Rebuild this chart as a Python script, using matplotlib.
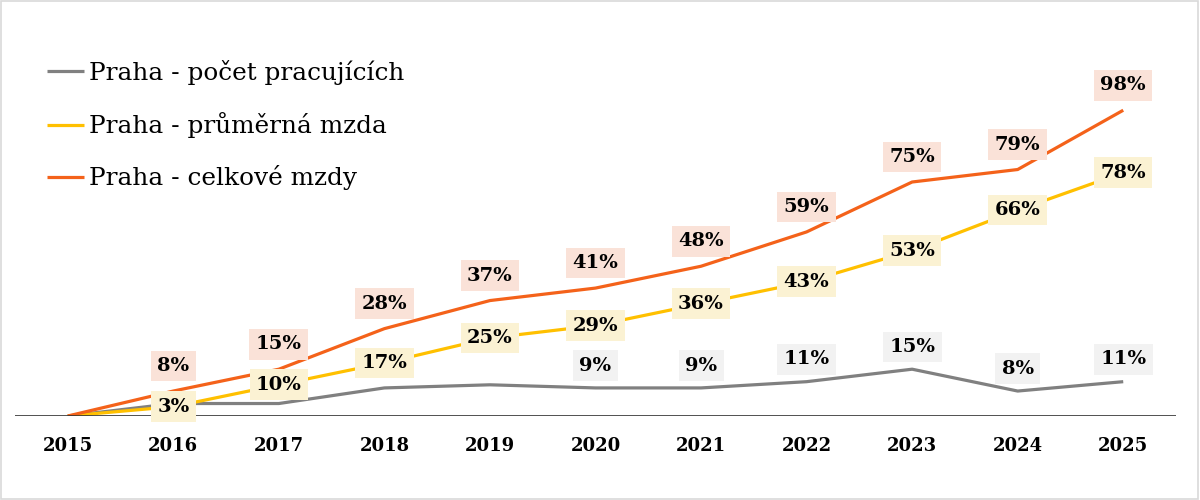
import matplotlib.pyplot as plt
from matplotlib.patches import Rectangle

years = ['2015', '2016', '2017', '2018', '2019', '2020', '2021', '2022', '2023', '2024', '2025']
workers = [0, 4, 4, 9, 10, 9, 9, 11, 15, 8, 11]
avg_wage = [0, 3, 10, 17, 25, 29, 36, 43, 53, 66, 78]
total_wages = [0, 8, 15, 28, 37, 41, 48, 59, 75, 79, 98]
# grey series only has labels from 2020 on
worker_labels_from = 5

series_names = ['Praha - počet pracujících', 'Praha - průměrná mzda', 'Praha - celkové mzdy']

grey = '#808080'
yellow = '#FFC000'
orange = '#F4621A'

plt.rcParams['font.family'] = ['DejaVu Serif']

fig = plt.figure(figsize=(12, 5), dpi=100)
ax = fig.add_axes([0.0125, 0.168, 0.9675, 0.7488])

x = list(range(len(years)))
ax.plot(x, workers, color=grey, lw=2.3, label=series_names[0], solid_capstyle='butt')
ax.plot(x, avg_wage, color=yellow, lw=2.3, label=series_names[1], solid_capstyle='butt')
ax.plot(x, total_wages, color=orange, lw=2.3, label=series_names[2], solid_capstyle='butt')

ax.set_xlim(-0.5, len(years) - 0.5)
ax.set_ylim(0, 120)
ax.axhline(0, color='#333333', lw=1.2)

for s in ax.spines.values():
    s.set_visible(False)
ax.set_yticks([])
ax.set_xticks(x)
ax.set_xticklabels(years, fontsize=13, fontweight='bold')
ax.tick_params(axis='x', length=0, pad=15)

def label(xi, yi, dy, bg):
    ax.annotate(f'{yi}%', (xi, yi), xytext=(0, dy), textcoords='offset points',
                ha='center', va='center', fontsize=14, fontweight='bold',
                bbox=dict(boxstyle='square,pad=0.33', fc=bg, ec='none'), zorder=5)

for i in range(1, len(years)):
    label(i, total_wages[i], 18, '#FAE2D8')
    label(i, avg_wage[i], 0, '#FBF2D3')
    if i >= worker_labels_from:
        label(i, workers[i], 16, '#F2F2F2')

leg = ax.legend(loc='upper left', bbox_to_anchor=(0.008, 1.01), frameon=False,
                prop={'family': 'DejaVu Serif', 'size': 17.8}, handlelength=1.5,
                handletextpad=0.2, labelspacing=1.1)

fig.patches.append(Rectangle((0.001, 0.002), 0.997, 0.996, transform=fig.transFigure,
                             fill=False, ec='#D9D9D9', lw=1.2))

fig.savefig('out.png', dpi=100)
